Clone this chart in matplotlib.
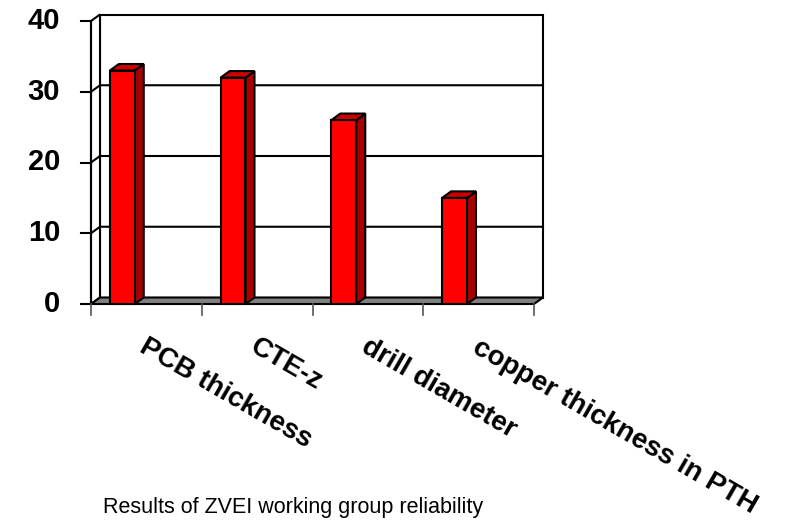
import numpy as np
import matplotlib.pyplot as plt
from matplotlib.patches import Polygon, Rectangle

plt.rcParams['font.family'] = ['Liberation Sans', 'DejaVu Sans']

categories = ['PCB thickness', 'CTE-z', 'drill diameter', 'copper thickness in PTH']
values = [33, 32, 26, 15]
yticks = [0, 10, 20, 30, 40]
caption = 'Results of ZVEI working group reliability'

W, H = 787, 520
fig = plt.figure(figsize=(W / 100, H / 100), dpi=100)

# front plane of the 3-D box, in pixels
left_px, right_px, bottom_px, top_px = 91, 534, 304, 21
ax = fig.add_axes([left_px / W, 1 - bottom_px / H,
                   (right_px - left_px) / W, (bottom_px - top_px) / H])
n = len(categories)
ymax = 40
ax.set_xlim(0, n)
ax.set_ylim(0, ymax)
ax.axis('off')

# pixel -> data unit helpers
px_x = n / (right_px - left_px)
px_y = ymax / (bottom_px - top_px)

# depth offset of the box (9 px right, 6.5 px up)
dx = 9 * px_x
dy = 6.5 * px_y

lw = 1.5
edge = 'black'

# back wall and left side wall
ax.add_patch(Rectangle((dx, dy), n, ymax, facecolor='white', edgecolor=edge,
                       lw=lw, clip_on=False, zorder=1))
ax.add_patch(Polygon([(0, 0), (dx, dy), (dx, ymax + dy), (0, ymax)],
                     closed=True, facecolor='white', edgecolor=edge,
                     lw=lw, clip_on=False, zorder=1))

# gridlines across both walls
for v in yticks[1:-1]:
    ax.plot([0, dx, n + dx], [v, v + dy, v + dy], color=edge, lw=lw,
            clip_on=False, zorder=2)

# floor
ax.add_patch(Polygon([(0, 0), (n, 0), (n + dx, dy), (dx, dy)], closed=True,
                     facecolor='#808080', edgecolor=edge, lw=lw,
                     clip_on=False, zorder=3))

# columns: front, side and top faces
bar_off, bar_w = 0.17, 0.225
x0 = np.arange(n) + bar_off
ax.bar(x0, values, width=bar_w, align='edge', color='#FF0000',
       edgecolor=edge, lw=lw, zorder=5, clip_on=False)
for xl, v in zip(x0, values):
    xr = xl + bar_w
    ax.add_patch(Polygon([(xr, 0), (xr + dx, dy), (xr + dx, v + dy), (xr, v)],
                         closed=True, facecolor='#A80000', edgecolor=edge,
                         lw=lw, zorder=4, clip_on=False))
    ax.add_patch(Polygon([(xl, v), (xr, v), (xr + dx, v + dy), (xl + dx, v + dy)],
                         closed=True, facecolor='#CC0000', edgecolor=edge,
                         lw=lw, zorder=4, clip_on=False))

# value axis with outward ticks
ax.plot([0, 0], [0, ymax], color=edge, lw=lw, clip_on=False, zorder=6)
for v in yticks:
    ax.plot([-10 * px_x, 0], [v, v], color=edge, lw=lw, clip_on=False, zorder=6)
    ax.text(-31 * px_x, v, str(v), ha='right', va='center',
            fontsize=21, fontweight='bold')

# category axis ticks
for i in range(n + 1):
    ax.plot([i, i], [0, -11 * px_y], color='#555555', lw=1.2, clip_on=False,
            zorder=6)

# slanted category labels
for i, name in enumerate(categories):
    ax.text(i + 0.5 + 2 * px_x, -30 * px_y, name,
            rotation=-30, rotation_mode='anchor', ha='left', va='top',
            fontsize=20, fontweight='bold')

fig.text(103 / W, 1 - 507 / H, caption, ha='left', va='center', fontsize=15.5)

fig.savefig('out.png', dpi=100)
